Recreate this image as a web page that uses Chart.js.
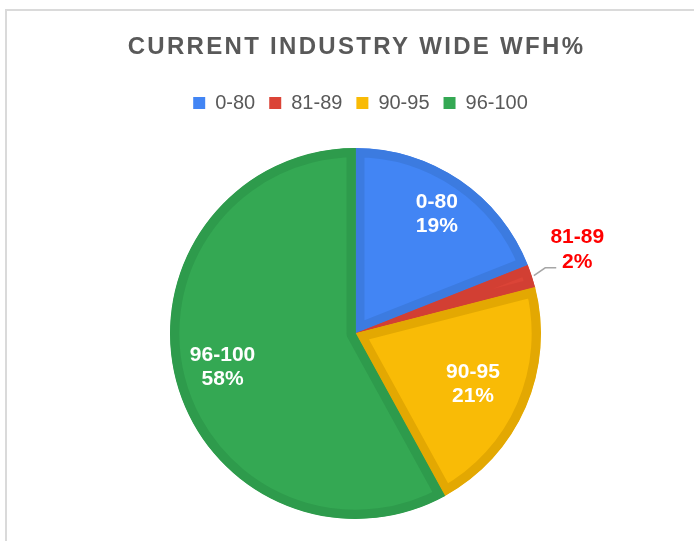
<!DOCTYPE html>
<html>
<head>
<meta charset="utf-8">
<script src="https://cdn.jsdelivr.net/npm/chart.js@4"></script>
<style>
  html, body { margin: 0; padding: 0; background: #fff; }
  #wrap { position: relative; width: 694px; height: 541px; overflow: hidden; }
  #frame { position: absolute; left: 5px; top: 9px; width: 800px; height: 700px;
           border-left: 2px solid #dadada; border-top: 2px solid #dadada; }
  canvas { position: absolute; left: 0; top: 0; }
</style>
</head>
<body>
<div id="wrap">
  <div id="frame"></div>
  <canvas id="wfhChart" width="694" height="541"></canvas>
</div>
<script>
// data
var categories = ['0-80', '81-89', '90-95', '96-100'];
var shares = [19, 2, 21, 58];
var chartTitle = 'CURRENT INDUSTRY WIDE WFH%';

// colours
var fills = ['#4285F4', '#DB4437', '#F9BB06', '#34A853'];
var borders = ['#3C7BE0', '#D23F33', '#E3A802', '#2E9B4C'];
// how far out (fraction of radius) each inside label sits; 0 = outside label
var labelDist = [0.78, 0, 0.69, 0.74];

var FONT = 'Arial, "Liberation Sans", sans-serif';

// title drawn by hand so it can have letter spacing
var titlePlugin = {
    id: 'spacedTitle',
    afterDraw: function (chart) {
        var ctx = chart.ctx;
        ctx.save();
        ctx.font = 'bold 24px ' + FONT;
        ctx.fillStyle = '#595959';
        ctx.textAlign = 'center';
        ctx.textBaseline = 'middle';
        ctx.letterSpacing = '2.3px';
        ctx.fillText(chartTitle, 356.5, 47);
        ctx.restore();
    }
};

// extra gap under the legend, and nudge it a bit to the right
var legendGap = {
    id: 'legendGap',
    beforeInit: function (chart) {
        var legend = chart.legend;
        var fit = legend.fit;
        legend.fit = function () {
            fit.bind(legend)();
            this.height += 25;
        };
        var draw = legend.draw;
        legend.draw = function () {
            chart.ctx.save();
            chart.ctx.translate(5, 0);
            draw.bind(legend)();
            chart.ctx.restore();
        };
    }
};

// slice labels
var sliceLabels = {
    id: 'sliceLabels',
    afterDatasetsDraw: function (chart) {
        var ctx = chart.ctx;
        var meta = chart.getDatasetMeta(0);
        ctx.save();
        ctx.font = 'bold 21px ' + FONT;
        ctx.textAlign = 'center';
        ctx.textBaseline = 'middle';
        meta.data.forEach(function (arc, i) {
            var p = arc.getProps(['x', 'y', 'startAngle', 'endAngle', 'outerRadius'], true);
            var mid = (p.startAngle + p.endAngle) / 2;
            var cos = Math.cos(mid), sin = Math.sin(mid);
            var line1 = categories[i];
            var line2 = shares[i] + '%';
            if (labelDist[i] > 0) {
                var d = p.outerRadius * labelDist[i];
                var lx = p.x + cos * d, ly = p.y + sin * d;
                ctx.fillStyle = '#ffffff';
                ctx.fillText(line1, lx, ly - 12);
                ctx.fillText(line2, lx, ly + 12);
            } else {
                // leader line + red label outside the pie
                var r0 = p.outerRadius + 2, r1 = p.outerRadius + 14;
                var sx = p.x + cos * r0, sy = p.y + sin * r0;
                var ex = p.x + cos * r1, ey = p.y + sin * r1 - 4;
                ctx.strokeStyle = '#a6a6a6';
                ctx.lineWidth = 1.5;
                ctx.beginPath();
                ctx.moveTo(sx, sy);
                ctx.lineTo(ex, ey);
                ctx.lineTo(ex + 11, ey);
                ctx.stroke();
                ctx.fillStyle = '#ff0000';
                var tx = ex + 32;
                ctx.fillText(line1, tx, ey - 31);
                ctx.fillText(line2, tx, ey - 6);
            }
        });
        ctx.restore();
    }
};

var ctxWfh = document.getElementById('wfhChart').getContext('2d');

var wfhChart = new Chart(ctxWfh, {
    type: 'pie',
    data: {
        labels: categories,
        datasets: [{
            data: shares,
            backgroundColor: fills,
            borderColor: borders,
            borderWidth: 9,
            borderAlign: 'inner',
            hoverOffset: 0
        }]
    },
    options: {
        responsive: false,
        animation: false,
        events: [],
        layout: {
            padding: { top: 79, left: 17, right: 0, bottom: 22 }
        },
        plugins: {
            title: { display: false },
            tooltip: { enabled: false },
            legend: {
                position: 'top',
                labels: {
                    color: '#595959',
                    font: { family: FONT, size: 20 },
                    boxWidth: 12,
                    boxHeight: 12,
                    padding: 14,
                    generateLabels: function (chart) {
                        return categories.map(function (c, i) {
                            return {
                                text: c,
                                fillStyle: fills[i],
                                strokeStyle: fills[i],
                                lineWidth: 0,
                                fontColor: '#595959',
                                hidden: false,
                                index: i
                            };
                        });
                    }
                }
            }
        }
    },
    plugins: [legendGap, sliceLabels, titlePlugin]
});
</script>
</body>
</html>
